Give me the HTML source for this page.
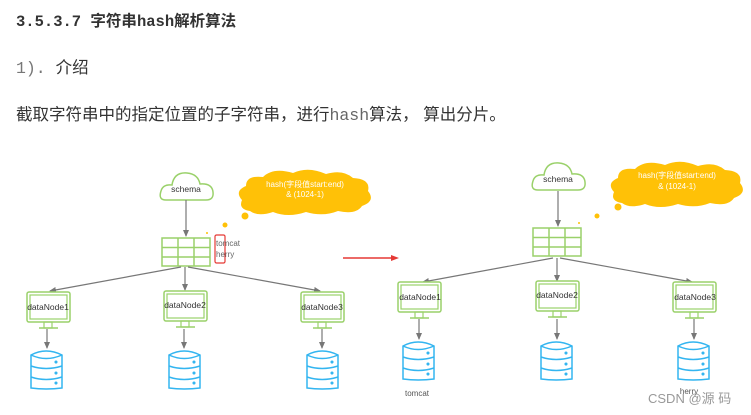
<!DOCTYPE html>
<html><head><meta charset="utf-8"><style>
html,body{margin:0;padding:0;background:#fff;width:751px;height:415px;overflow:hidden}
svg{position:absolute;left:0;top:0}
</style></head><body>
<svg width="751" height="415" viewBox="0 0 751 415" xmlns="http://www.w3.org/2000/svg" font-family="'Liberation Sans','Noto Sans CJK SC',sans-serif">
<defs>
<marker id="ar" markerWidth="8" markerHeight="8" refX="6" refY="3" orient="auto" markerUnits="userSpaceOnUse"><path d="M0,0 L7,3 L0,6 z" fill="#777"/></marker>
<g id="mon"><rect x="0" y="0" width="43" height="30" rx="2" fill="#fff" stroke="#9ad16a" stroke-width="1.5"/><rect x="3" y="3" width="37" height="24" fill="none" stroke="#9ad16a" stroke-width="1.2"/><rect x="17" y="30" width="8" height="6" fill="none" stroke="#9ad16a" stroke-width="1.2"/><line x1="12" y1="36" x2="31" y2="36" stroke="#9ad16a" stroke-width="1.5"/></g>
<g id="db" fill="#fff" stroke="#33b5f0" stroke-width="1.5"><path d="M0,5 Q15,-3 31,5 L31,38 Q15,40 0,38 Z"/><path d="M0,5 Q15,12 31,5" fill="none"/><path d="M0,16 Q15,21 31,16" fill="none"/><path d="M0,27 Q15,32 31,27" fill="none"/><circle cx="25" cy="12" r="0.8" fill="#33b5f0"/><circle cx="25" cy="23" r="0.8" fill="#33b5f0"/><circle cx="25" cy="33" r="0.8" fill="#33b5f0"/></g>
<g id="tbl" fill="none" stroke="#9ad16a" stroke-width="1.5"><rect x="0" y="0" width="48" height="28"/><line x1="16" y1="0" x2="16" y2="28"/><line x1="32" y1="0" x2="32" y2="28"/><line x1="0" y1="9.5" x2="48" y2="9.5"/><line x1="0" y1="19" x2="48" y2="19"/></g>
<g id="cl"><path d="M6,30 Q-2,30 1,21 Q3,14 12,15 Q14,2 27,3 Q38,4 40,14 Q52,13 53,22 Q54,30 46,30 Z" fill="#fff" stroke="#9ad16a" stroke-width="1.5"/></g>
<g id="yc"><path d="M12,42 Q0,40 4,31 Q-4,22 8,17 Q8,6 25,8 Q35,-2 55,4 Q70,-3 88,5 Q105,0 115,9 Q133,10 130,22 Q138,32 124,37 Q118,46 100,42 Q85,48 68,43 Q50,49 35,43 Q20,48 12,42 Z" fill="#ffc107"/></g>
</defs>

<text x="16" y="26" font-size="15.5" font-weight="bold" fill="#333"><tspan font-family="'Liberation Mono',monospace">3.5.3.7 </tspan>字符串<tspan font-family="'Liberation Mono',monospace">hash</tspan>解析算法</text>
<text x="16" y="73" font-size="16.5" fill="#333"><tspan font-family="'Liberation Mono',monospace" fill="#777">1). </tspan>介绍</text>
<text x="16" y="120" font-size="16.5" fill="#333">截取字符串中的指定位置的子字符串，进行<tspan font-family="'Liberation Mono',monospace" fill="#666">hash</tspan>算法，  算出分片。</text>

<!-- Left diagram -->
<use href="#cl" x="160" y="170"/>
<text x="186" y="192" font-size="8.5" text-anchor="middle" fill="#333">schema</text>
<use href="#yc" x="238" y="169"/>
<text x="305" y="187" font-size="8" text-anchor="middle" fill="#fff">hash(字段值start:end)</text>
<text x="305" y="197" font-size="8" text-anchor="middle" fill="#fff">&amp; (1024-1)</text>
<circle cx="245" cy="216" r="3.5" fill="#ffc107"/><circle cx="225" cy="225" r="2.5" fill="#ffc107"/><circle cx="207" cy="233" r="1" fill="#ffc107"/>
<line x1="186" y1="200" x2="186" y2="236" stroke="#777" stroke-width="1.2" marker-end="url(#ar)"/>
<use href="#tbl" x="162" y="238"/>
<rect x="215" y="235" width="10" height="28" rx="1.5" fill="none" stroke="#e53935" stroke-width="1.2"/>
<text x="216" y="246" font-size="8" fill="#666">tomcat</text>
<text x="216" y="257" font-size="8" fill="#666">herry</text>
<g stroke="#777" stroke-width="1.2" fill="none" marker-end="url(#ar)">
<line x1="181" y1="267" x2="50" y2="291"/><line x1="185" y1="267" x2="185" y2="290"/><line x1="188" y1="267" x2="320" y2="291"/>
<line x1="47" y1="329" x2="47" y2="348"/><line x1="184" y1="329" x2="184" y2="348"/><line x1="322" y1="329" x2="322" y2="348"/>
</g>
<use href="#mon" x="27" y="292"/><use href="#mon" x="164" y="291"/><use href="#mon" x="301" y="292"/>
<text x="48" y="310" font-size="8.5" text-anchor="middle" fill="#333">dataNode1</text>
<text x="185" y="308" font-size="8.5" text-anchor="middle" fill="#333">dataNode2</text>
<text x="322" y="310" font-size="8.5" text-anchor="middle" fill="#333">dataNode3</text>
<use href="#db" x="31" y="350"/><use href="#db" x="169" y="350"/><use href="#db" x="307" y="350"/>

<!-- red arrow -->
<line x1="343" y1="258" x2="393" y2="258" stroke="#e53935" stroke-width="1.5"/>
<path d="M391,255 L399,258 L391,261 z" fill="#e53935"/>

<!-- Right diagram -->
<use href="#cl" x="532" y="160"/>
<text x="558" y="182" font-size="8.5" text-anchor="middle" fill="#333">schema</text>
<use href="#yc" x="610" y="161"/>
<text x="677" y="178" font-size="8" text-anchor="middle" fill="#fff">hash(字段值start:end)</text>
<text x="677" y="189" font-size="8" text-anchor="middle" fill="#fff">&amp; (1024-1)</text>
<circle cx="618" cy="207" r="3.5" fill="#ffc107"/><circle cx="597" cy="216" r="2.5" fill="#ffc107"/><circle cx="579" cy="223" r="1" fill="#ffc107"/>
<line x1="558" y1="191" x2="558" y2="226" stroke="#777" stroke-width="1.2" marker-end="url(#ar)"/>
<use href="#tbl" x="533" y="228"/>
<g stroke="#777" stroke-width="1.2" fill="none" marker-end="url(#ar)">
<line x1="553" y1="258" x2="423" y2="282"/><line x1="557" y1="258" x2="557" y2="281"/><line x1="560" y1="258" x2="692" y2="282"/>
<line x1="419" y1="319" x2="419" y2="339"/><line x1="557" y1="319" x2="557" y2="339"/><line x1="694" y1="319" x2="694" y2="339"/>
</g>
<use href="#mon" x="398" y="282"/><use href="#mon" x="536" y="281"/><use href="#mon" x="673" y="282"/>
<text x="420" y="300" font-size="8.5" text-anchor="middle" fill="#333">dataNode1</text>
<text x="557" y="298" font-size="8.5" text-anchor="middle" fill="#333">dataNode2</text>
<text x="695" y="300" font-size="8.5" text-anchor="middle" fill="#333">dataNode3</text>
<use href="#db" x="403" y="341"/><use href="#db" x="541" y="341"/><use href="#db" x="678" y="341"/>
<text x="417" y="396" font-size="8" text-anchor="middle" fill="#555">tomcat</text>
<text x="689" y="394" font-size="8" text-anchor="middle" fill="#555">herry</text>
<text x="648" y="403" font-size="13" fill="#999">CSDN @源 码</text>
</svg>
</body></html>
